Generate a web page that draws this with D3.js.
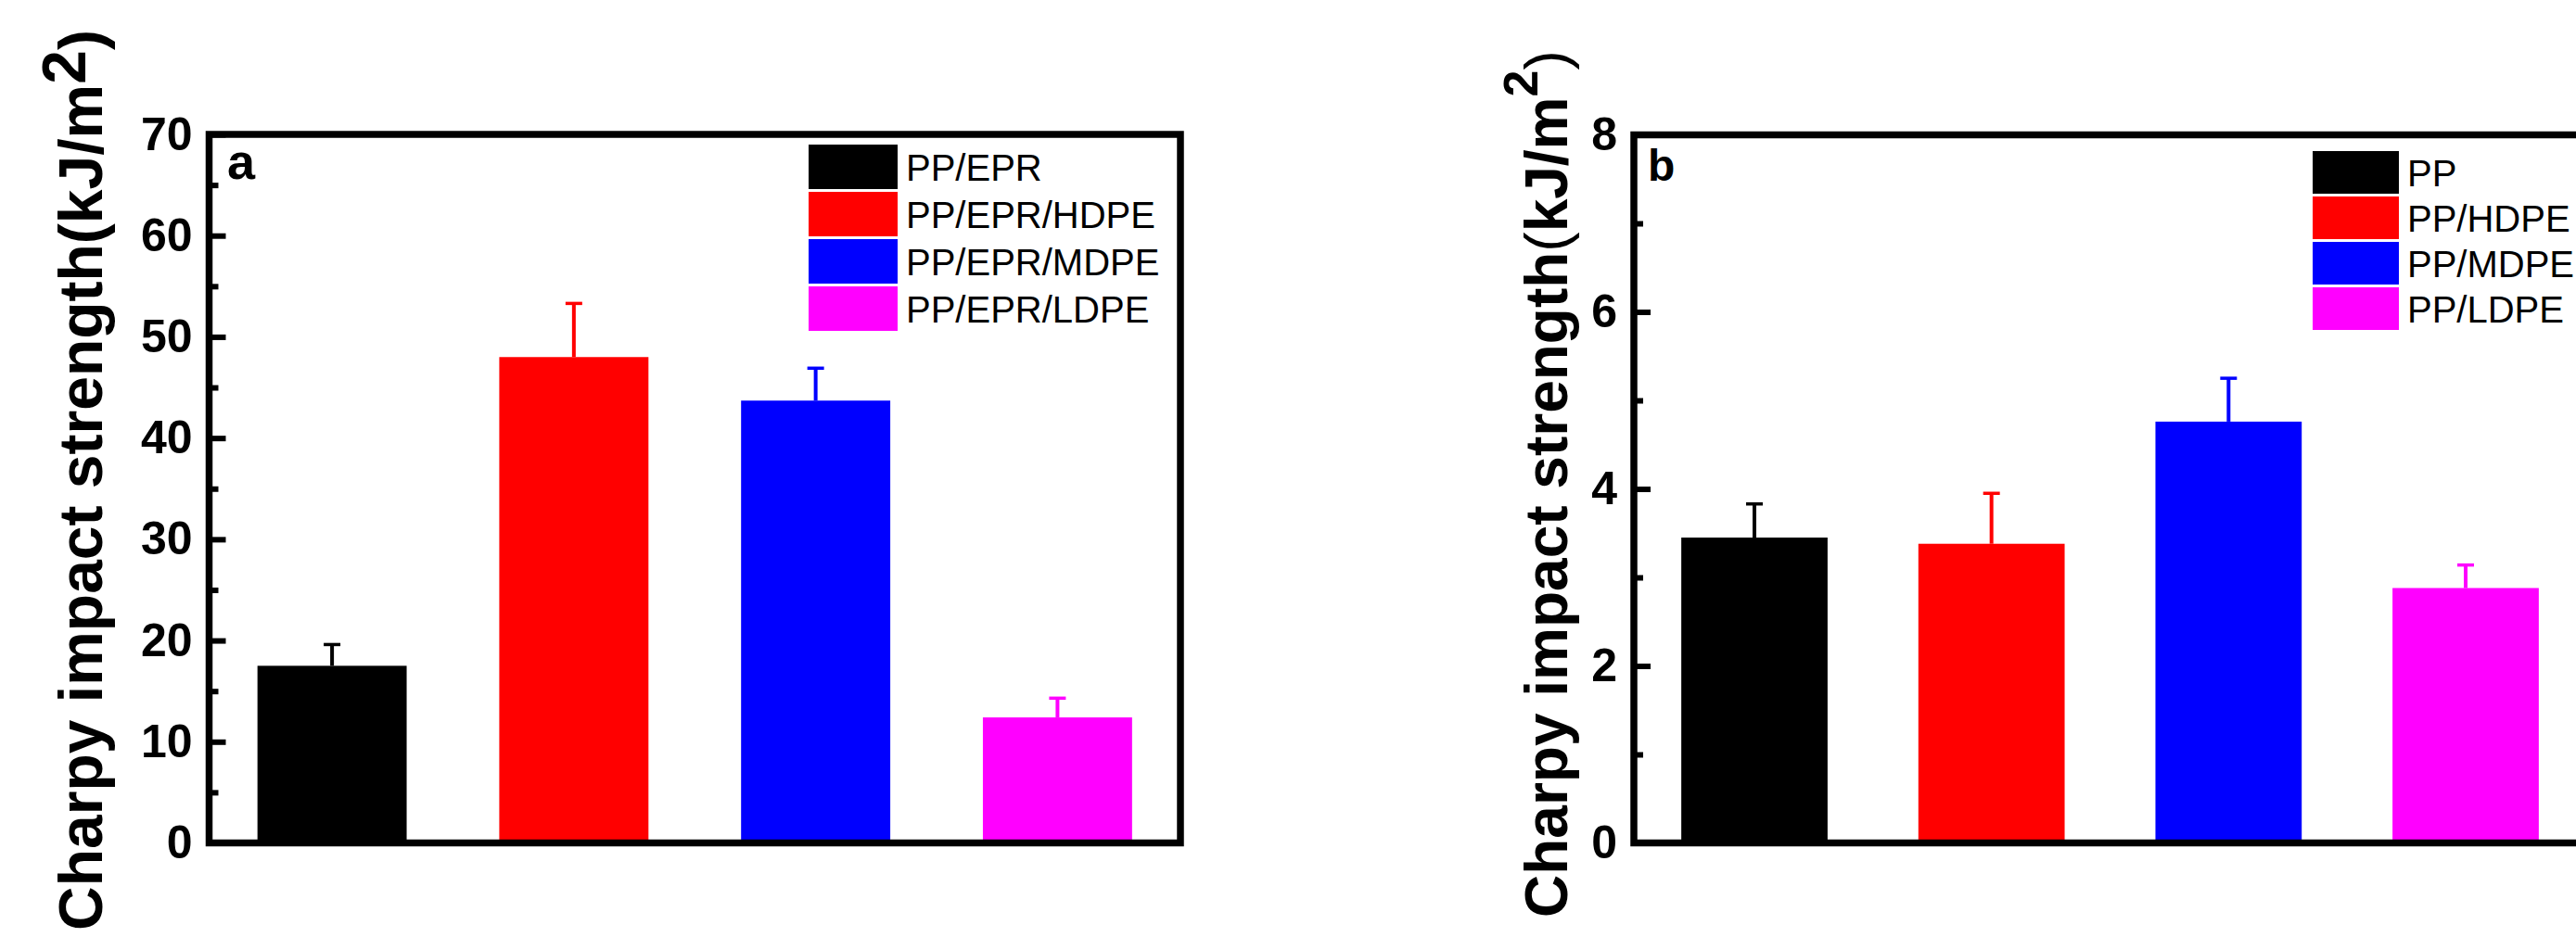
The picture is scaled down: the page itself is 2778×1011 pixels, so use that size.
<!DOCTYPE html>
<html>
<head>
<meta charset="utf-8">
<script src="https://cdn.jsdelivr.net/npm/d3@7"></script>
<style>
  body { margin: 0; background: #fff; }
  text { font-family: "Liberation Sans", Arial, sans-serif; }
</style>
</head>
<body>
<svg width="2778" height="1011"></svg>
<script>
// data
const categoriesA = ['PP/EPR', 'PP/EPR/HDPE', 'PP/EPR/MDPE', 'PP/EPR/LDPE'];
const valuesA = [17.5, 48.0, 43.7, 12.4];
const errorsA = [2.1, 5.3, 3.2, 1.9];
const majorTicksA = [0, 10, 20, 30, 40, 50, 60, 70];
const minorTicksA = [5, 15, 25, 35, 45, 55, 65];

const categoriesB = ['PP', 'PP/HDPE', 'PP/MDPE', 'PP/LDPE'];
const valuesB = [3.45, 3.38, 4.76, 2.88];
const errorsB = [0.38, 0.57, 0.49, 0.26];
const majorTicksB = [0, 2, 4, 6, 8];
const minorTicksB = [1, 3, 5, 7];

const colors = ['#000000', '#ff0000', '#0000ff', '#ff00ff'];

const svg = d3.select('svg');
svg.append('rect').attr('width', 2778).attr('height', 1011).attr('fill', '#fff');

function drawPanel(p) {
  const x = d3.scaleBand()
      .domain(p.categories)
      .range([p.left, p.right])
      .paddingInner(0.383)
      .paddingOuter(0.2);

  const y = d3.scaleLinear()
      .domain([0, p.yMax])
      .range([p.bottom, p.top]);

  const g = svg.append('g');

  // bars
  g.selectAll('rect.bar')
    .data(p.values)
    .join('rect')
      .attr('class', 'bar')
      .attr('x', (d, i) => x(p.categories[i]))
      .attr('y', d => y(d))
      .attr('width', x.bandwidth())
      .attr('height', d => y(0) - y(d))
      .attr('fill', (d, i) => colors[i]);

  // upper error bars
  const err = g.selectAll('g.err')
    .data(p.values)
    .join('g')
      .attr('class', 'err')
      .attr('stroke', (d, i) => colors[i]);

  err.append('line')
      .attr('x1', (d, i) => x(p.categories[i]) + x.bandwidth() / 2)
      .attr('x2', (d, i) => x(p.categories[i]) + x.bandwidth() / 2)
      .attr('y1', d => y(d))
      .attr('y2', (d, i) => y(d + p.errors[i]))
      .attr('stroke-width', 4);

  err.append('line')
      .attr('x1', (d, i) => x(p.categories[i]) + x.bandwidth() / 2 - 9)
      .attr('x2', (d, i) => x(p.categories[i]) + x.bandwidth() / 2 + 9)
      .attr('y1', (d, i) => y(d + p.errors[i]))
      .attr('y2', (d, i) => y(d + p.errors[i]))
      .attr('stroke-width', 3.5);

  // minor ticks (inward, no labels)
  g.append('g')
      .attr('transform', `translate(${p.left}, 0)`)
      .call(d3.axisLeft(y).tickValues(p.minorTicks).tickSize(-10).tickFormat(''))
      .call(a => a.select('.domain').remove())
      .call(a => a.selectAll('line').attr('stroke', '#000').attr('stroke-width', 6));

  // major ticks
  g.append('g')
      .attr('transform', `translate(${p.left}, 0)`)
      .call(d3.axisLeft(y).tickValues(p.majorTicks).tickSize(-18).tickPadding(18))
      .call(a => a.select('.domain').remove())
      .call(a => a.selectAll('line').attr('stroke', '#000').attr('stroke-width', 6))
      .call(a => a.selectAll('text')
          .attr('font-family', '"Liberation Sans", Arial, sans-serif')
          .attr('font-size', 50)
          .attr('font-weight', 'bold')
          .attr('fill', '#000'));

  // frame
  g.append('rect')
      .attr('x', p.left)
      .attr('y', p.top)
      .attr('width', p.right - p.left)
      .attr('height', p.bottom - p.top)
      .attr('fill', 'none')
      .attr('stroke', '#000')
      .attr('stroke-width', 7.5);

  // panel letter
  g.append('text')
      .attr('x', p.letterX)
      .attr('y', p.letterY)
      .attr('font-size', p.letterSize)
      .attr('font-weight', 'bold')
      .text(p.letter);

  // legend
  const leg = g.selectAll('g.leg')
    .data(p.categories)
    .join('g')
      .attr('class', 'leg')
      .attr('transform', (d, i) => `translate(${p.legX}, ${p.legY + i * p.legStep})`);

  leg.append('rect')
      .attr('width', p.swW)
      .attr('height', p.swH)
      .attr('fill', (d, i) => colors[i]);

  leg.append('text')
      .attr('x', p.swW + 9)
      .attr('y', p.swH / 2 + 14.5)
      .attr('font-size', 40)
      .text(d => d);

  // y axis title
  const t = g.append('text')
      .attr('transform', `translate(${p.titleX}, ${p.titleY}) rotate(-90)`)
      .attr('text-anchor', p.titleAnchor)
      .attr('font-size', p.titleSize)
      .attr('font-weight', 'bold');
  t.append('tspan').text('Charpy impact strength');
  t.append('tspan').attr('font-weight', p.parenWeight).text('(');
  t.append('tspan').text('kJ/m');
  t.append('tspan').attr('dy', -p.supShift).attr('font-size', p.supSize).text('2');
  t.append('tspan').attr('dy', p.supShift).attr('font-weight', p.parenWeight).text(')');
}

drawPanel({
  categories: categoriesA, values: valuesA, errors: errorsA,
  majorTicks: majorTicksA, minorTicks: minorTicksA, yMax: 70,
  left: 225.5, right: 1273, top: 145, bottom: 909.5,
  letter: 'a', letterX: 245, letterY: 193, letterSize: 54,
  legX: 872, legY: 156, legStep: 51, swW: 96, swH: 48,
  titleX: 110, titleY: 32, titleSize: 66, titleAnchor: 'end',
  parenWeight: 'bold', supSize: 66, supShift: 18
});

drawPanel({
  categories: categoriesB, values: valuesB, errors: errorsB,
  majorTicks: majorTicksB, minorTicks: minorTicksB, yMax: 8,
  left: 1762, right: 2789, top: 145.5, bottom: 909.5,
  letter: 'b', letterX: 1777, letterY: 195, letterSize: 48,
  legX: 2494, legY: 163, legStep: 49, swW: 93, swH: 46,
  titleX: 1690, titleY: 990, titleSize: 64, titleAnchor: 'start',
  parenWeight: 'normal', supSize: 52, supShift: 32
});
</script>
</body>
</html>
